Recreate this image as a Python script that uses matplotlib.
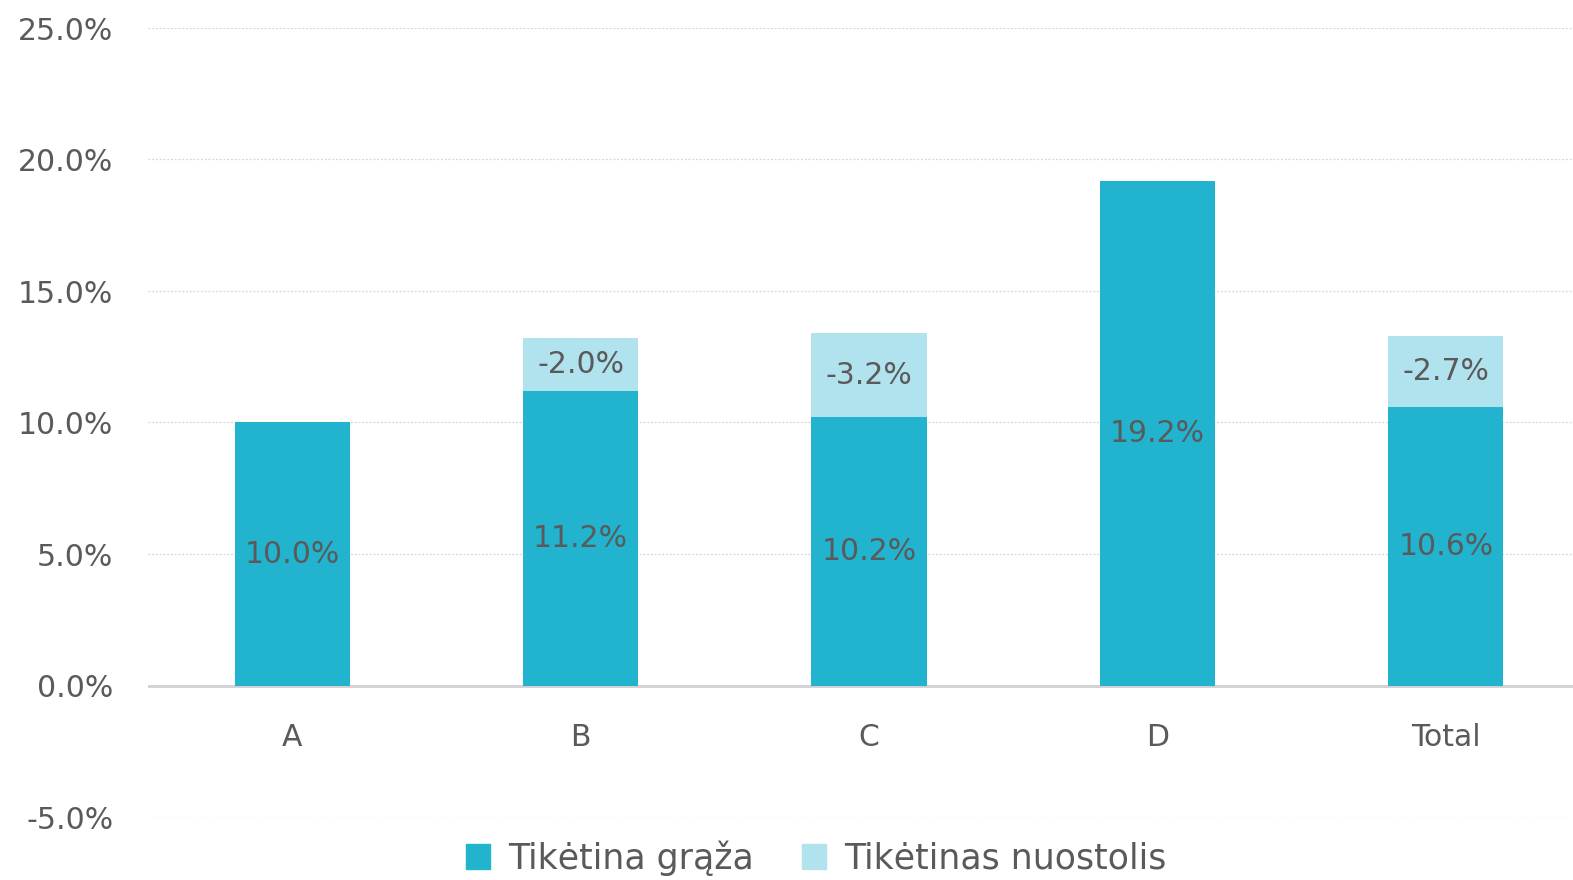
import matplotlib
matplotlib.use("Agg")
import matplotlib.pyplot as plt
from matplotlib.patches import Patch

categories = ["A", "B", "C", "D", "Total"]
expected_return = [10.0, 11.2, 10.2, 19.2, 10.6]
expected_loss = [None, -2.0, -3.2, None, -2.7]
yticks = [-5, 0, 5, 10, 15, 20, 25]
series_names = ["Tikėtina grąža", "Tikėtinas nuostolis"]

DARK = "#22B3CF"
LIGHT = "#B0E3EE"
TXT = "#5a5a5a"
plt.rcParams["font.family"] = ["DejaVu Sans"]

fig = plt.figure(figsize=(15.73, 8.8), dpi=100)
ax = fig.add_axes([148/1573, 1-817/880, (1590-148)/1573, (817-28)/880])

x = list(range(len(categories)))
w = 0.4
ax.bar(x, expected_return, width=w, color=DARK, zorder=3)
loss_h = [abs(v) if v is not None else 0 for v in expected_loss]
ax.bar(x, loss_h, width=w, bottom=expected_return, color=LIGHT, zorder=3)

FS = 21.5
for i in x:
    ax.text(i, expected_return[i]/2, f"{expected_return[i]:.1f}%", ha="center", va="center",
            fontsize=FS, color=TXT, zorder=4)
    if expected_loss[i] is not None:
        ax.text(i, expected_return[i] + loss_h[i]/2, f"{expected_loss[i]:.1f}%", ha="center",
                va="center", fontsize=FS, color=TXT, zorder=4)

for s in ax.spines.values():
    s.set_visible(False)
ax.spines["bottom"].set_position(("data", 0))

ax.set_xlim(-0.5, len(categories)-0.5)
ax.set_ylim(-5, 25)
ax.set_yticks(yticks)
ax.set_yticklabels([f"{v:.1f}%" for v in yticks], fontsize=FS, color=TXT)
ax.set_xticks(x)
ax.set_xticklabels(categories, fontsize=FS, color=TXT)
ax.tick_params(axis="both", length=0)
ax.tick_params(axis="y", pad=25)
ax.tick_params(axis="x", pad=27)
for v in yticks:
    if v == 0:
        ax.axhline(0, color="#d0d0d0", lw=2, zorder=2)
    else:
        ax.axhline(v, color="#d6d6d6", lw=0.9, ls=(0, (1.5, 1.5)), zorder=1)

handles = [Patch(color=DARK), Patch(color=LIGHT)]
fig.legend(handles, series_names, loc="center", bbox_to_anchor=(816/1573, 1-858/880),
           ncol=2, frameon=True, framealpha=1, edgecolor="white", facecolor="white",
           fontsize=25, labelcolor=TXT, handlelength=0.7, handleheight=0.7,
           handletextpad=0.5, columnspacing=1.4, borderpad=0.05)

fig.savefig("out.png", dpi=100)
